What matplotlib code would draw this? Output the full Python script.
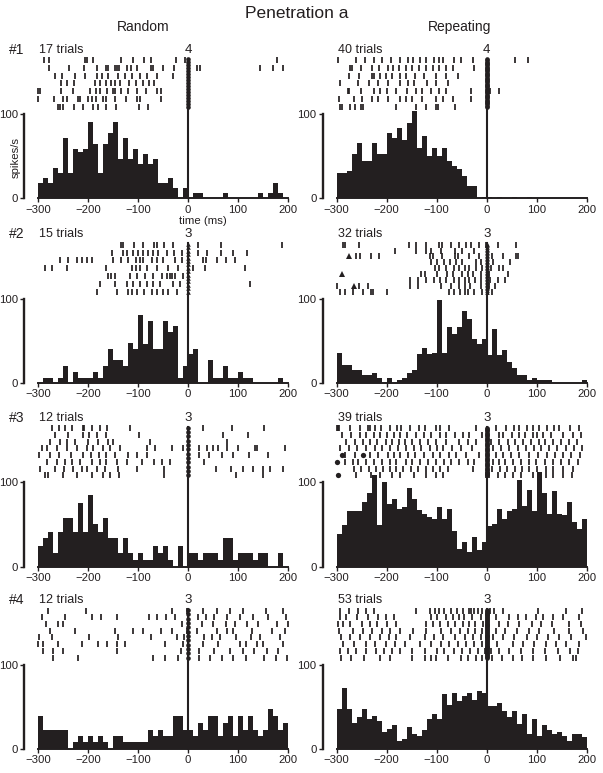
import numpy as np
import matplotlib
matplotlib.use('Agg')
import matplotlib.pyplot as plt

plt.rcParams['font.family'] = ['Liberation Sans', 'DejaVu Sans']

# ---------------- data ----------------
bin_edges = np.arange(-300, 201, 10)
xticks = [-300, -200, -100, 0, 100, 200]
yticks = [0, 100]
row_labels = ['#1', '#2', '#3', '#4']
col_titles = ['Random', 'Repeating']
trials_random = [17, 15, 12, 12]
trials_repeat = [40, 32, 39, 53]
frames_random = [4, 3, 3, 3]
frames_repeat = [4, 3, 3, 3]
zero_marker = ['o', '^', 'o', 'o']

hist_random_1 = [18, 24, 18, 36, 30, 72, 30, 59, 55, 59, 90, 65, 30, 65, 77, 90, 47, 71, 47, 59,
                 41, 53, 41, 47, 18, 18, 24, 12, 0, 12, 0, 6, 6, 0, 0, 0, 0, 6, 0, 0,
                 0, 0, 0, 0, 6, 0, 6, 18, 6, 0]
hist_repeat_1 = [30, 30, 32, 52, 66, 44, 44, 66, 52, 52, 77, 72, 83, 69, 89, 103, 60, 74, 50, 60,
                 50, 60, 44, 38, 35, 27, 14, 14, 0, 2, 2, 0, 2, 0, 0, 2, 0, 0, 2, 0,
                 0, 0, 0, 0, 0, 0, 0, 0, 0, 0]
hist_random_2 = [0, 6, 6, 0, 6, 20, 0, 13, 6, 6, 6, 13, 6, 20, 40, 27, 27, 20, 48, 40,
                 81, 46, 74, 40, 40, 74, 61, 68, 6, 20, 34, 40, 0, 0, 27, 6, 6, 20, 6, 6,
                 13, 6, 6, 0, 0, 0, 0, 0, 6, 0]
hist_repeat_2 = [36, 21, 21, 15, 15, 9, 9, 12, 6, 0, 6, 0, 3, 6, 12, 15, 34, 42, 34, 36,
                 98, 36, 67, 58, 67, 85, 76, 52, 46, 52, 33, 64, 33, 39, 25, 18, 9, 9, 3, 6,
                 3, 3, 3, 0, 0, 0, 0, 0, 0, 3]
hist_random_3 = [25, 34, 41, 16, 41, 58, 58, 41, 76, 41, 85, 51, 41, 58, 34, 34, 16, 34, 16, 8,
                 16, 8, 8, 25, 16, 25, 8, 0, 25, 0, 16, 16, 8, 16, 16, 16, 8, 34, 34, 8,
                 16, 16, 16, 8, 16, 16, 0, 0, 16, 0]
hist_repeat_3 = [39, 50, 66, 66, 66, 77, 87, 109, 50, 101, 74, 80, 69, 71, 93, 80, 67, 63, 59, 56,
                 71, 56, 69, 42, 21, 29, 18, 35, 20, 29, 48, 51, 69, 56, 66, 69, 103, 72, 91, 66,
                 112, 87, 63, 90, 63, 61, 77, 53, 45, 56]
hist_random_4 = [39, 23, 23, 23, 23, 23, 0, 8, 15, 8, 15, 8, 15, 8, 0, 15, 15, 8, 8, 8,
                 8, 8, 23, 16, 23, 16, 16, 39, 39, 23, 23, 16, 31, 23, 39, 39, 16, 31, 39, 16,
                 39, 23, 39, 23, 16, 23, 47, 39, 23, 31]
hist_repeat_4 = [47, 72, 47, 31, 38, 47, 35, 39, 33, 20, 24, 28, 10, 12, 26, 18, 16, 22, 35, 41,
                 35, 65, 52, 67, 57, 63, 67, 58, 69, 66, 51, 51, 54, 45, 38, 45, 30, 41, 18, 36,
                 16, 28, 22, 18, 20, 16, 10, 18, 18, 14]

# spike times (ms), one list per raster line (top to bottom)
raster_random_1 = [
    [-288, -278, -207, -202, -191, -135, -111, -89, -75, -25, -7, 177],
    [-278, -239, -208, -183, -165, -160, -147, -143, -139, -123, -115, -103, -75, -70, -50, -29, 17, 23, 143, 170, 190],
    [-267, -253, -227, -207, -183, -173, -160, -140, -127, -113, -97, -83, -63, -30],
    [-255, -243, -229, -187, -177, -165, -155, -147, -137, -118, -105, -91, -78, -69],
    [-300, -297, -255, -231, -197, -185, -177, -163, -151, -147, -135, -120, -103, -85, -63, -55],
    [-301, -268, -250, -243, -220, -217, -200, -193, -185, -171, -165, -147, -125, -103, -97, -55],
    [-260, -257, -250, -229, -210, -191, -181, -165, -145, -98, -80],
]
raster_repeat_1 = [
    [-297, -262, -244, -226, -209, -191, -173, -158, -148, -134, -121, -106, -96, -88, -66, -51, -27, 57, 82],
    [-274, -269, -251, -229, -215, -197, -188, -176, -161, -149, -136, -122, -108, -96, -82, -68, -26],
    [-275, -255, -229, -226, -214, -202, -189, -174, -162, -144, -126, -102, -82, -58],
    [-294, -257, -235, -217, -197, -174, -158, -146, -120, -101, -78],
    [-277, -275, -251, -226, -214, -199, -181, -160, -142, -129, -112, -96, -81, -31, 7, 24],
    [-295, -266, -249, -229, -217, -197, -174, -161, -149, -129, -102, -88, -68, -31],
    [-294, -289, -273, -264, -251, -247, -181, -142, -122, -101, -98, -64],
]
raster_random_2 = [
    [-135, -131, -109, -91, -69, -63, -49, -31, 20, 65, 187],
    [-153, -131, -122, -110, -100, -90, -80, -71, -60, -43, -29, -13, 20, 38, 65, 90, 117],
    [-257, -240, -222, -213, -202, -193, -150, -135, -120, -105, -97, -90, -73, -63, -50, -27, -13, 30, 35, 58, 75, 93],
    [-287, -273, -243, -165, -113, -105, -97, -83, -63, -40, -20, 10, 33, 113],
    [-160, -155, -147, -117, -102, -87, -70, -53, -43, -37, -33, -27, -11],
    [-177, -147, -123, -111, -97, -83, -70, -57, -31, -17, 123],
    [-183, -143, -120, -113, -103, -89, -73, -63, -51, -40, -23],
]
raster_repeat_2 = [
    [-288, -283, -255, -155, -142, -121, -96, -89, -71, -56, -42, -31, -15, -1, 22, 58],
    [-183, -142, -121, -111, -91, -64, -49, -26],
    [-261, -253, -232, -215, -114, -107, -89, -64, -58, -36, -15, 11, 32, 58, 62],
    [-111, -100, -86, -74, -61, -49, -21, -11, 0, 13, 46],
    [-104, -96, -82, -66, -56, -44, -35, -21, -9, 9, 24, 33],
    [-131, -124, -100, -80, -68, -49, -38, -28, -11, 5, 42],
    [-154, -137, -122, -106, -94, -81, -66, -56, -44, -36, -23, -11, 7, 22, 37],
    [-300, -255, -237, -154, -137, -91, -71, -56, -44, -33, -11, 4, 17],
    [-293, -283, -268, -248, -232, -227, -199, -76, -66, -54, -44, -38, -25, -9, 2, 11],
]
raster_random_3 = [
    [-273, -258, -247, -233, -211, -208, -193, -177, -163, -117, 29, 87, 151],
    [-267, -240, -210, -198, -183, -165, -98, 69, 120],
    [-277, -257, -243, -227, -200, -180, -160, -150, -77, 78],
    [-293, -283, -263, -243, -222, -203, -191, -170, -157, -137, -83, -67, -33, -11, 22, 38, 50, 60, 78, 100, 133, 137, 193],
    [-298, -277, -258, -235, -211, -195, -178, -165, -147, -120, -103, -83, 22, 42, 67, 90, 122, 160],
    [-283, -263, -247, -233, -217, -193, -177, -165, -142, -123, -93, -69, -53, -37, 31],
    [-297, -267, -249, -231, -213, -202, -183, -167, -140, -103, -49, 55, 85, 109, 129, 150, 163, 190],
    [-287, -280, -250, -222, -193, -171, -157, -138, -49, 95, 150],
]
raster_repeat_3 = [
    [-299, -297, -295, -274, -254, -237, -234, -224, -211, -194, -180, -171, -154, -136, -124, -101, -94, -76, -21, 19, 39, 55, 65, 80, 92, 105, 120, 135, 144, 166, 185],
    [-289, -271, -254, -242, -226, -213, -199, -186, -174, -160, -141, -126, -111, -94, -81, -64, -47, -35, -9, 24, 33, 51, 65, 77, 92, 100, 112, 128, 152, 173, 188],
    [-281, -264, -247, -233, -219, -202, -189, -176, -164, -149, -133, -118, -102, -82, -56, -38, -21, 9, 25, 42, 57, 73, 88, 104, 117, 133, 148, 165, 180],
    [-294, -275, -259, -241, -224, -209, -193, -178, -162, -146, -131, -114, -100, -88, -69, -51, -29, 12, 29, 44, 62, 78, 95, 108, 125, 140, 158, 175, 191],
    [-284, -264, -234, -217, -197, -186, -173, -158, -144, -126, -108, -93, -76, -61, -41, -15, 19, 33, 49, 65, 84, 102, 120, 137, 152, 168, 186],
    [-284, -267, -257, -241, -226, -209, -194, -181, -162, -149, -133, -118, -101, -86, -71, -56, -38, -25, 12, 24, 37, 53, 68, 84, 98, 117, 133, 148, 165, 182],
    [-266, -251, -235, -222, -207, -193, -181, -168, -151, -138, -122, -108, -94, -78, -28, 11, 27, 40, 57, 70, 85, 100, 118, 133, 152, 173],
    [-262, -231, -214, -189, -174, -146, -121, -102, -88, -1, 5, 22, 37, 53, 68, 92, 118, 132, 152, 170],
]
raster_random_4 = [
    [-280, -205, -33, -3, 30, 57, 83, 109, 155, 189],
    [-293, -247, -193, -175, -142, -78, -62, -45, -27, 20, 35, 51, 77, 103, 130, 160, 195],
    [-285, -260, -251, -13, 27, 49, 75, 93, 118, 140, 177, 200],
    [-277, -227, -147, -111, -91, -55, -33, -2, 17, 57, 78, 89, 127, 167, 193],
    [-298, -273, -198, -140, -75, -23, -9, 31, 47, 63, 95, 125, 143, 183],
    [-300, -291, -260, -213, -180, -163, -142, -127, -47, -11, 30, 60, 103, 115, 138, 150, 189],
    [-291, -271, -251, -142, -15, 22, 51, 83, 109, 131, 157, 180],
    [-270, -220, -70, -47, -20, 21, 43, 67, 90, 115, 151, 175, 197],
]
raster_repeat_4 = [
    [-294, -275, -257, -242, -226, -141, -114, -104, -96, -86, -71, -60, -48, -36, -31, -25, -18, -9, 7, 15, 32, 102, 158, 190],
    [-293, -281, -259, -237, -217, -202, -186, -111, -100, -82, -68, -56, -45, -29, -11, 19, 44, 62, 78, 98, 112, 132, 152, 185],
    [-297, -287, -274, -249, -234, -219, -199, -181, -122, -108, -94, -78, -63, -48, -35, -23, -8, 25, 42, 65, 90, 108, 130, 164, 188],
    [-295, -267, -247, -229, -209, -193, -174, -148, -121, -91, -71, -53, -38, -23, -9, 19, 37, 60, 84, 105, 135, 164, 193],
    [-291, -273, -254, -234, -214, -195, -181, -154, -124, -106, -88, -64, -43, -28, -11, 13, 33, 55, 80, 100, 122, 144, 168, 198],
    [-287, -266, -241, -224, -202, -184, -164, -134, -111, -91, -76, -58, -41, -25, -9, 20, 52, 73, 95, 118, 138, 158, 184],
    [-294, -277, -261, -242, -222, -206, -189, -173, -149, -124, -100, -86, -66, -49, -33, -18, -3, 9, 24, 45, 68, 93, 117, 142, 166, 182],
    [-291, -271, -246, -214, -194, -149, -124, -111, -101, -78, -51, -38, -21, -9, 0, 11, 31, 52, 70, 92, 118, 146, 173, 178],
]

# extra event symbols inside rasters: (time ms, raster line index)
events_repeat_2 = [(-275, 2), (-290, 5), (-265, 7)]
events_repeat_3 = [(-289, 4), (-247, 4), (-299, 5), (-297, 7)]

hists_random = [hist_random_1, hist_random_2, hist_random_3, hist_random_4]
hists_repeat = [hist_repeat_1, hist_repeat_2, hist_repeat_3, hist_repeat_4]
rasters_random = [raster_random_1, raster_random_2, raster_random_3, raster_random_4]
rasters_repeat = [raster_repeat_1, raster_repeat_2, raster_repeat_3, raster_repeat_4]
events_random = [[], [], [], []]
events_repeat = [[], events_repeat_2, events_repeat_3, []]

# ---------------- layout ----------------
W, H = 603, 773
INK = '#231f20'
fig = plt.figure(figsize=(W / 100, H / 100), dpi=100)

col_left_px = [38.0, 336.7]
col_width_px = 250.0
row_base_px = [198.3, 383.0, 566.7, 749.0]
ppu = 0.843          # pixels per spikes/s unit
YMAX = 182
R_TOP, R_BOT = 164.0, 108.5   # raster extent in data units


def fx(px):
    return px / W


def fy(py):
    return 1 - py / H


def draw_panel(ax, hist, raster, ntrial, frames, marker, events):
    ax.bar(bin_edges[:-1], hist, width=10, align='edge', color=INK, linewidth=0, zorder=2)
    nrow = len(raster)
    ys = [R_TOP - i * (R_TOP - R_BOT) / (nrow - 1) for i in range(nrow)]
    for y, times in zip(ys, raster):
        ax.plot(times, [y] * len(times), ls='none', marker='|', ms=4.0, mew=1.25,
                color=INK, clip_on=False)
    for t, i in events:
        ax.plot([t], [ys[i]], ls='none', marker=marker, ms=3.8, color=INK,
                mew=0, clip_on=False)
    ax.plot([0, 0], [0, R_TOP + 1.5], color=INK, lw=1.5, clip_on=False, zorder=3)
    ty = np.linspace(R_BOT, R_TOP + 1, ntrial)
    ax.plot(np.zeros(ntrial), ty, ls='none', marker=marker, ms=3.3, mew=0, color=INK,
            clip_on=False, zorder=4)
    ax.text(-298, 176.5, f'{ntrial} trials', ha='left', va='center', fontsize=9, color=INK)
    ax.text(0, 176.5, str(frames), ha='center', va='center', fontsize=9.5, color=INK)

    ax.set_xlim(-300, 200)
    ax.set_ylim(0, YMAX)
    ax.set_xticks(xticks)
    ax.set_yticks(yticks)
    for s in ['top', 'right']:
        ax.spines[s].set_visible(False)
    ax.spines['left'].set_position(('outward', 10))
    ax.spines['left'].set_bounds(0, 100)
    ax.spines['bottom'].set_bounds(-300, 200)
    ax.spines['left'].set_linewidth(1.7)
    ax.spines['bottom'].set_linewidth(1.4)
    ax.spines['left'].set_color(INK)
    ax.spines['bottom'].set_color(INK)
    ax.tick_params(direction='out', length=3, width=1, labelsize=8.2, pad=1.5,
                   colors=INK)
    ax.patch.set_alpha(0)


for r in range(4):
    for c in range(2):
        left = fx(col_left_px[c])
        bottom = fy(row_base_px[r])
        ax = fig.add_axes([left, bottom, col_width_px / W, YMAX * ppu / H])
        if c == 0:
            draw_panel(ax, hists_random[r], rasters_random[r], trials_random[r],
                       frames_random[r], zero_marker[r], events_random[r])
        else:
            draw_panel(ax, hists_repeat[r], rasters_repeat[r], trials_repeat[r],
                       frames_repeat[r], zero_marker[r], events_repeat[r])
    fig.text(fx(9), fy(row_base_px[r] - 176.5 * ppu), row_labels[r], ha='left',
             va='center', fontsize=10, color=INK)

fig.text(fx(297), fy(14), 'Penetration a', ha='center', va='center', fontsize=12.5, color=INK)
fig.text(fx(143), fy(27), col_titles[0], ha='center', va='center', fontsize=10, color=INK)
fig.text(fx(460), fy(27), col_titles[1], ha='center', va='center', fontsize=10, color=INK)
fig.text(fx(16), fy(157), 'spikes/s', ha='center', va='center', rotation=90, fontsize=8.2, color=INK)
fig.text(fx(203), fy(221), 'time (ms)', ha='center', va='center', fontsize=8.2, color=INK)

fig.savefig('out.png', dpi=100)
